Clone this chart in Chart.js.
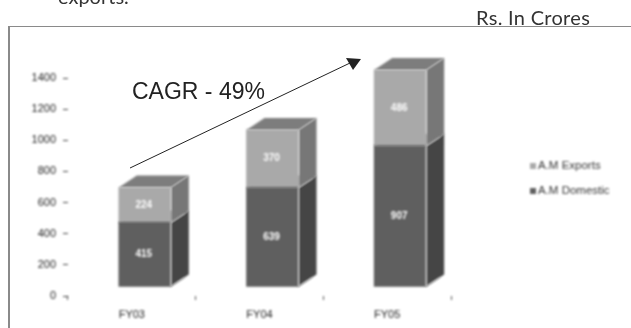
<!DOCTYPE html>
<html>
<head>
<meta charset="utf-8">
<script src="https://cdn.jsdelivr.net/npm/chart.js@4"></script>
<style>
    html, body { margin: 0; padding: 0; background: #fff; overflow: hidden; }
    #page { position: relative; width: 631px; height: 328px; overflow: hidden; }
    #sales { position: absolute; left: 0; top: 0; }
    #frame { position: absolute; left: 8px; top: 26px; width: 640px; height: 320px; border-top: 1px solid #8a8a8a; border-left: 2px solid #8a8a8a; box-sizing: border-box; }
    #arrow { position: absolute; left: 0; top: 0; }
    .note { position: absolute; white-space: nowrap; line-height: 1; }
    #lead { left: 58px; top: -16px; font: 20px Lato, sans-serif; color: #333; }
    #unit { left: 476px; top: 5px; font: 20px Lato, sans-serif; letter-spacing: 0.3px; color: #333; }
    #cagr { left: 132px; top: 78px; font: 23px "Liberation Sans", sans-serif; color: #222; }
</style>
</head>
<body>
<div id="page">
    <canvas id="sales" width="631" height="328"></canvas>
    <div id="frame"></div>
    <svg id="arrow" width="631" height="328">
        <line x1="130" y1="168" x2="350" y2="63" stroke="#222" stroke-width="1"/>
        <polygon points="361,59 346,58 353,70" fill="#222"/>
    </svg>
    <div class="note" id="lead">exports.</div>
    <div class="note" id="unit">Rs. In Crores</div>
    <div class="note" id="cagr">CAGR - 49%</div>
</div>
<script>
const years = ['FY03', 'FY04', 'FY05'];
const domestic = [415, 639, 907];
const exportsSales = [224, 370, 486];
const yTicks = [0, 200, 400, 600, 800, 1000, 1200, 1400];

// front, side and lid shades for each stacked series
const shades = [
    { front: '#5f5f5f', side: '#454545', lid: '#5f5f5f' },
    { front: '#a9a9a9', side: '#777777', lid: '#7d7d7d' }
];

// depth of the extruded boxes, and how far they sit off the axis origin
const depth = { x: 18, y: 12 };
const shift = { x: 13, y: -9 };

function poly(ctx, points, color) {
    ctx.fillStyle = color;
    ctx.beginPath();
    points.forEach((p, i) => i ? ctx.lineTo(p[0], p[1]) : ctx.moveTo(p[0], p[1]));
    ctx.closePath();
    ctx.fill();
}

// the whole chart layer is slightly soft, unlike the notes above it
const softLayer = {
    id: 'softLayer',
    beforeDraw(chart) {
        chart.ctx.save();
        chart.ctx.filter = 'blur(0.8px)';
    },
    afterDraw(chart) {
        chart.ctx.restore();
    }
};

const boxes = {
    id: 'boxes',
    beforeDatasetsDraw(chart) {
        const ctx = chart.ctx;
        ctx.save();
        ctx.translate(shift.x, shift.y);
        chart.data.datasets.forEach((ds, i) => {
            chart.getDatasetMeta(i).data.forEach(bar => {
                const right = bar.x + bar.width / 2;
                const left = bar.x - bar.width / 2;
                poly(ctx, [[right, bar.y], [right + depth.x, bar.y - depth.y],
                    [right + depth.x, bar.base - depth.y], [right, bar.base]], shades[i].side);
                poly(ctx, [[left, bar.y], [left + depth.x, bar.y - depth.y],
                    [right + depth.x, bar.y - depth.y], [right, bar.y]], shades[i].lid);
            });
        });
    },
    afterDatasetsDraw(chart) {
        const ctx = chart.ctx;
        chart.data.datasets.forEach((ds, i) => {
            chart.getDatasetMeta(i).data.forEach((bar, j) => {
                const right = bar.x + bar.width / 2;
                // pale edge between front and side
                ctx.strokeStyle = '#c4c4c4';
                ctx.lineWidth = 1;
                ctx.beginPath();
                ctx.moveTo(right, bar.y);
                ctx.lineTo(right, bar.base);
                ctx.lineTo(right + depth.x - 4, bar.base - depth.y + 3);
                ctx.stroke();
                // value in the middle of the front face
                ctx.fillStyle = '#ffffff';
                ctx.font = 'bold 10px "Liberation Sans", sans-serif';
                ctx.textAlign = 'center';
                ctx.textBaseline = 'middle';
                ctx.fillText(ds.data[j], bar.x - 1, (bar.y + bar.base) / 2);
            });
        });
        ctx.restore();
    }
};

const seriesKey = {
    id: 'seriesKey',
    afterDraw(chart) {
        const ctx = chart.ctx;
        ctx.save();
        ctx.filter = 'blur(0.8px)';
        ctx.font = '11.5px "Liberation Sans", sans-serif';
        ctx.textAlign = 'left';
        ctx.textBaseline = 'middle';
        [1, 0].forEach((i, row) => {
            const y = 166 + row * 25;
            ctx.fillStyle = shades[i].front;
            ctx.fillRect(530, y - 3, 6, 6);
            ctx.fillStyle = '#333';
            ctx.fillText(chart.data.datasets[i].label, 538, y);
        });
        ctx.restore();
    }
};

new Chart(document.getElementById('sales'), {
    type: 'bar',
    plugins: [softLayer, boxes, seriesKey],
    data: {
        labels: years,
        datasets: [
            {
                label: 'A.M Domestic',
                data: domestic,
                backgroundColor: shades[0].front,
                barThickness: 52,
                clip: false
            }, {
                label: 'A.M Exports',
                data: exportsSales,
                backgroundColor: shades[1].front,
                barThickness: 52,
                clip: false
            }
        ]
    },
    options: {
        responsive: false,
        animation: false,
        layout: {
            padding: { top: 78, right: 180, bottom: 0, left: 0 }
        },
        plugins: {
            legend: { display: false },
            tooltip: { enabled: false }
        },
        scales: {
            x: {
                stacked: true,
                afterFit(scale) { scale.height = 32; },
                border: { display: false },
                grid: { drawOnChartArea: false, tickLength: 4, tickColor: '#555' },
                ticks: {
                    color: '#222',
                    padding: 8,
                    maxRotation: 0,
                    font: { size: 11, family: 'Liberation Sans' }
                }
            },
            y: {
                stacked: true,
                min: 0,
                max: 1400,
                afterFit(scale) { scale.width = 68; },
                afterBuildTicks(scale) { scale.ticks = yTicks.map(value => ({ value })); },
                border: { display: false },
                grid: { drawOnChartArea: false, tickLength: 5, tickColor: '#444' },
                ticks: {
                    color: '#222',
                    padding: 7,
                    callback: value => String(value),
                    font: { size: 11, family: 'Liberation Sans' }
                }
            }
        }
    }
});
</script>
</body>
</html>
